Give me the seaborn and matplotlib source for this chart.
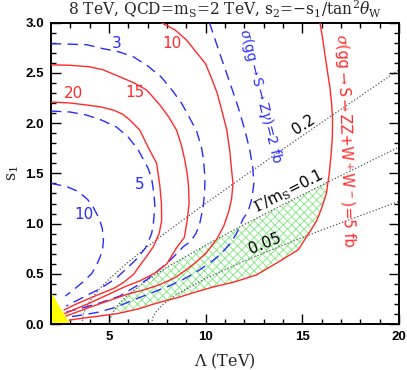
import numpy as np
import pandas as pd
import matplotlib
matplotlib.use("Agg")
import matplotlib.pyplot as plt
import seaborn as sns

# ---------------- data ----------------
# red solid: sigma(gg->S->ZZ+WW) contours [fb]
red20_x = [2.0, 3.0, 3.84, 4.6, 5.22, 5.7, 6.09, 6.6, 7.03, 7.47, 7.64, 7.72, 7.73, 7.6, 7.3, 6.9, 6.55, 6.3, 5.8, 5.3, 4.6, 3.8, 3.2, 2.68]
red20_y = [2.21, 2.2, 2.18, 2.16, 2.13, 2.09, 2.03, 1.93, 1.76, 1.6, 1.37, 1.2, 1.03, 0.9, 0.77, 0.66, 0.57, 0.50, 0.42, 0.36, 0.305, 0.24, 0.19, 0.14]
red15_x = [2.0, 3.0, 4.0, 4.7, 5.57, 6.3, 6.95, 7.64, 8.1, 8.5, 8.75, 8.93, 9.05, 9.12, 9.15, 9.05, 8.9, 8.5, 8.0, 7.4, 6.6, 5.8, 4.8, 3.9, 3.2, 2.72]
red15_y = [2.58, 2.575, 2.56, 2.53, 2.46, 2.4, 2.33, 2.18, 2.06, 1.93, 1.78, 1.63, 1.5, 1.37, 1.2, 1.03, 0.86, 0.76, 0.60, 0.51, 0.43, 0.37, 0.28, 0.20, 0.145, 0.105]
red10_x = [7.7, 8.4, 9.0, 9.5, 10.0, 10.3, 10.6, 10.85, 11.1, 11.25, 11.35, 11.42, 11.35, 11.2, 10.95, 10.6, 10.0, 9.4, 9.0, 8.4, 7.6, 6.8, 6.0, 4.8, 3.9, 3.2, 2.78]
red10_y = [3.0, 2.93, 2.83, 2.71, 2.59, 2.45, 2.30, 2.12, 1.93, 1.73, 1.53, 1.40, 1.25, 1.12, 0.98, 0.85, 0.70, 0.60, 0.54, 0.46, 0.39, 0.34, 0.30, 0.22, 0.16, 0.11, 0.08]
red5_x = [15.92, 16.05, 16.17, 16.3, 16.43, 16.52, 16.57, 16.56, 16.5, 16.4, 16.25, 16.0, 15.75, 15.5, 15.23, 14.8, 13.7, 12.64, 11.5, 10.4, 9.5, 8.67, 7.5, 6.5, 5.48, 4.5, 3.7, 2.95]
red5_y = [3.0, 2.85, 2.69, 2.52, 2.36, 2.2, 2.03, 1.86, 1.70, 1.5, 1.3, 1.15, 1.03, 0.95, 0.87, 0.74, 0.61, 0.49, 0.42, 0.37, 0.32, 0.27, 0.21, 0.15, 0.106, 0.08, 0.06, 0.04]

# blue dashed: sigma(gg->S->Z gamma) contours [fb]
blue10_x = [2.0, 2.8, 3.41, 3.9, 4.2, 4.5, 4.66, 4.72, 4.68, 4.55, 4.35, 4.1, 3.6, 3.1, 2.75]
blue10_y = [1.40, 1.37, 1.32, 1.24, 1.16, 1.05, 0.95, 0.84, 0.75, 0.67, 0.58, 0.50, 0.41, 0.33, 0.28]
blue5_x = [2.0, 3.0, 3.84, 4.62, 5.4, 6.0, 6.5, 7.03, 7.21, 7.33, 7.38, 7.3, 7.21, 6.9, 6.45, 5.9, 5.4, 4.53, 3.9, 3.3, 2.8]
blue5_y = [2.12, 2.11, 2.08, 2.03, 1.96, 1.86, 1.74, 1.55, 1.45, 1.3, 1.17, 1.0, 0.9, 0.76, 0.65, 0.55, 0.46, 0.35, 0.29, 0.23, 0.18]
blue3_x = [2.0, 3.0, 3.84, 4.71, 5.5, 6.26, 7.0, 7.7, 8.3, 8.75, 9.1, 9.54, 9.8, 9.9, 9.97, 9.95, 9.88, 9.7, 9.5, 9.2, 8.85, 8.4, 7.98, 6.95, 5.57, 4.53, 3.6, 2.8]
blue3_y = [2.79, 2.785, 2.78, 2.74, 2.71, 2.66, 2.57, 2.46, 2.32, 2.2, 2.08, 1.92, 1.75, 1.63, 1.45, 1.3, 1.17, 1.0, 0.9, 0.82, 0.77, 0.68, 0.6, 0.44, 0.28, 0.21, 0.16, 0.12]
blue2_x = [10.2, 10.55, 10.9, 11.3, 11.7, 12.05, 12.3, 12.45, 12.5, 12.4, 12.2, 11.95, 11.6, 11.26, 10.8, 10.3, 9.54, 8.8, 8.0, 7.12, 6.2, 5.4, 4.5, 3.6, 2.9]
blue2_y = [3.0, 2.8, 2.6, 2.38, 2.15, 1.92, 1.72, 1.55, 1.4, 1.25, 1.12, 1.05, 0.9, 0.8, 0.7, 0.62, 0.52, 0.44, 0.37, 0.305, 0.235, 0.17, 0.12, 0.09, 0.07]

# dotted: Gamma/m_S contours
w02_x = [3.6, 3.7, 3.85, 4.1, 4.5, 5.0, 6.0, 7.0, 8.0, 10.0, 12.0, 14.0, 16.0, 18.0, 20.0]
w02_y = [0.0, 0.11, 0.176, 0.252, 0.347, 0.446, 0.617, 0.772, 0.919, 1.2, 1.472, 1.74, 2.005, 2.268, 2.53]
w01_x = [5.05, 5.12, 5.25, 5.5, 6.0, 7.0, 8.0, 10.0, 12.0, 14.0, 16.0, 18.0, 20.0]
w01_y = [0.0, 0.077, 0.131, 0.198, 0.295, 0.441, 0.565, 0.785, 0.991, 1.188, 1.382, 1.572, 1.761]
w005_x = [7.2, 7.28, 7.45, 7.8, 8.5, 10.0, 12.0, 14.0, 16.0, 18.0, 20.0]
w005_y = [0.0, 0.070, 0.125, 0.196, 0.295, 0.454, 0.628, 0.785, 0.935, 1.079, 1.22]

# yellow excluded corner
yellow_x = [2.0, 2.0, 3.0]
yellow_y = [0.0, 0.32, 0.0]

# green allowed region: between the Gamma/m_S=0.1 curve and the 5 fb curve
green_lo, green_hi = 5.15, 16.34
green_corner = (16.34, 1.415)

RED = "#ff2a2a"
BLUE = "#2a2aff"

# ---------------- figure ----------------
sns.set_style("ticks")
plt.rcParams["font.family"] = ["DejaVu Sans"]
plt.rcParams["mathtext.fontset"] = "dejavuserif"
plt.rcParams["hatch.linewidth"] = 0.6

fig = plt.figure(figsize=(4.07, 3.70), dpi=100)
ax = fig.add_axes([0.125, 0.124, 0.855, 0.815])

# green hatched region
gx = [x for x in w01_x if green_lo < x < green_hi] + [green_corner[0]]
gy = [y for x, y in zip(w01_x, w01_y) if green_lo < x < green_hi] + [green_corner[1]]
for x, y in zip(red5_x, red5_y):
    if y < green_corner[1] and x > green_lo:
        gx.append(x)
        gy.append(y)
ax.fill(gx, gy, facecolor="none", edgecolor="#7ee87e", hatch="xxxx", linewidth=0, zorder=1)

ax.fill(yellow_x, yellow_y, color="#ffff00", linewidth=0, zorder=1)

def curve(xs, ys, **kw):
    df = pd.DataFrame({"x": xs, "y": ys})
    sns.lineplot(data=df, x="x", y="y", sort=False, estimator=None, ax=ax, **kw)

for xs, ys in [(w02_x, w02_y), (w01_x, w01_y), (w005_x, w005_y)]:
    curve(xs, ys, color="#555555", linewidth=0.9, linestyle=(0, (1, 1.6)), zorder=2)

for xs, ys in [(blue10_x, blue10_y), (blue5_x, blue5_y), (blue3_x, blue3_y), (blue2_x, blue2_y)]:
    curve(xs, ys, color=BLUE, linewidth=1.0, linestyle=(0, (7.5, 4.5)), zorder=3)

for xs, ys in [(red20_x, red20_y), (red15_x, red15_y), (red10_x, red10_y), (red5_x, red5_y)]:
    curve(xs, ys, color=RED, linewidth=1.0, zorder=4)

# labels on curves
lab = dict(fontsize=11, family="DejaVu Sans", ha="center", va="center")
ax.text(3.15, 2.29, "20", color=RED, **lab)
ax.text(6.35, 2.30, "15", color=RED, **lab)
ax.text(8.24, 2.79, "10", color=RED, **lab)
ax.text(5.4, 2.79, "3", color=BLUE, **lab)
ax.text(6.6, 1.39, "5", color=BLUE, **lab)
ax.text(3.72, 1.09, "10", color=BLUE, **lab)

ax.text(12.85, 2.27, r"$\sigma$(gg$\rightarrow$S$\rightarrow$Z$\gamma$)=2 fb", color=BLUE,
        rotation=-76, fontsize=10, ha="center", va="center", rotation_mode="anchor")
ax.text(17.2, 1.83, r"$\sigma$(gg$\rightarrow$S$\rightarrow$ZZ+W$^+$W$^-$)=5 fb", color=RED,
        rotation=-88, fontsize=10.5, ha="center", va="center", rotation_mode="anchor")
ax.text(15.06, 1.98, "0.2", color="black", rotation=33, fontsize=11, ha="center", va="center",
        rotation_mode="anchor")
ax.text(14.28, 1.32, r"$\Gamma$/m$_\mathrm{S}$=0.1", color="black", rotation=27, fontsize=11,
        ha="center", va="center", rotation_mode="anchor")
ax.text(13.07, 0.80, "0.05", color="black", rotation=22, fontsize=11, ha="center", va="center",
        rotation_mode="anchor")

# axes
ax.set_xlim(2, 20)
ax.set_ylim(0, 3)
ax.set_xticks([5, 10, 15, 20])
ax.set_yticks([0.0, 0.5, 1.0, 1.5, 2.0, 2.5, 3.0])
ax.set_yticklabels(["0.0", "0.5", "1.0", "1.5", "2.0", "2.5", "3.0"])
ax.set_xticks(np.arange(3, 20, 1), minor=True)
ax.set_yticks(np.arange(0, 3.0001, 0.1), minor=True)
ax.tick_params(which="both", direction="in", top=True, right=True, width=1.0, colors="black")
ax.tick_params(which="major", length=7, labelsize=9.5, pad=5)
ax.tick_params(which="minor", length=3.5)
for t in ax.get_xticklabels() + ax.get_yticklabels():
    t.set_fontweight("bold")
    t.set_family("Liberation Sans")
for s in ax.spines.values():
    s.set_linewidth(1.4)
    s.set_color("black")

ax.set_xlabel(r"$\Lambda$ (TeV)", fontsize=11.5, family="DejaVu Serif", labelpad=6)
ax.set_ylabel(r"s$_1$", fontsize=11.5, family="DejaVu Serif")
ax.yaxis.set_label_coords(-0.085, 0.5)
ax.set_title(r"8 TeV, QCD=m$_\mathrm{S}$=2 TeV, s$_2$=$-$s$_1$/tan$^2\theta_\mathrm{W}$",
             fontsize=11.2, family="DejaVu Serif", pad=5)

fig.savefig("out.png", dpi=100)
